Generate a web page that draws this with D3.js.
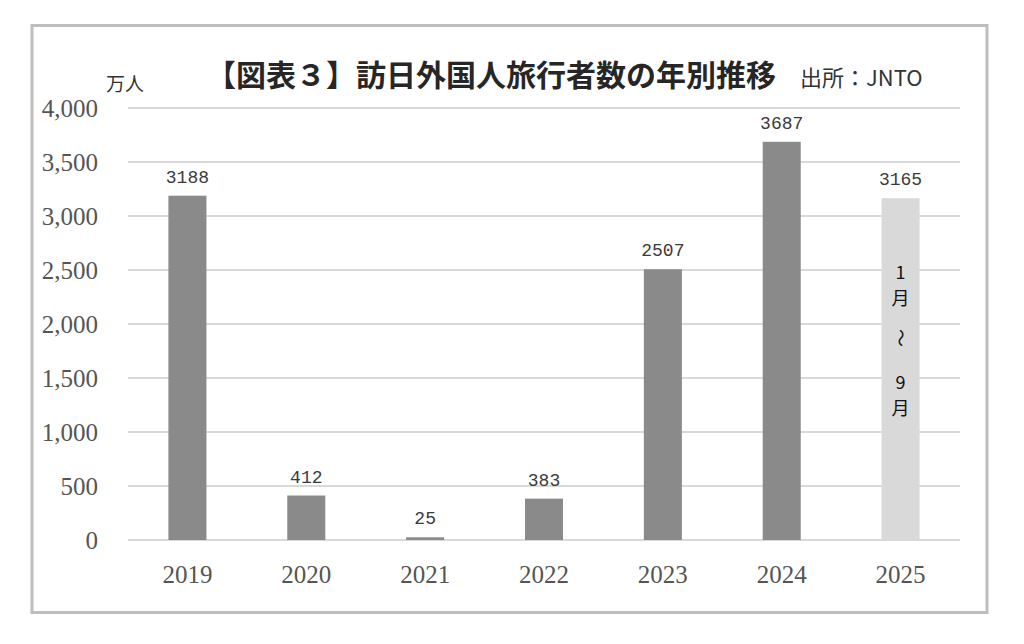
<!DOCTYPE html>
<html><head><meta charset="utf-8">
<script src="https://cdn.jsdelivr.net/npm/d3@7"></script>
<style>body{margin:0;background:#fff;} svg{display:block;}</style>
</head><body>
<svg id="c" width="1024" height="644"></svg>
<script>
const years = ["2019","2020","2021","2022","2023","2024","2025"];
const visitors = [3188, 412, 25, 383, 2507, 3687, 3165];
const barColors = ["#8a8a8a","#8a8a8a","#8a8a8a","#8a8a8a","#8a8a8a","#8a8a8a","#d9d9d9"];
const yTicks = [0, 500, 1000, 1500, 2000, 2500, 3000, 3500, 4000];
const title = "【図表３】訪日外国人旅行者数の年別推移";
const source = "出所：JNTO";
const unit = "万人";
const noteChars = ["1","月","〜","9","月"];

const svg = d3.select("#c");
svg.append("rect").attr("x",32).attr("y",25.5).attr("width",955).attr("height",587)
  .attr("fill","#fff").attr("stroke","#bdbdbd").attr("stroke-width",3);

const x = d3.scaleBand().domain(years).range([128,960]).paddingInner(0.68).paddingOuter(0.34);
const y = d3.scaleLinear().domain([0,4000]).range([540,108]);

// gridlines
svg.append("g").selectAll("line").data(yTicks).join("line")
  .attr("x1",128).attr("x2",960).attr("y1",d=>y(d)).attr("y2",d=>y(d))
  .attr("stroke","#d9d9d9").attr("stroke-width",2);

// y axis labels
const yAxis = d3.axisLeft(y).tickValues(yTicks).tickSize(0).tickPadding(0).tickFormat(d3.format(","));
const ya = svg.append("g").attr("transform","translate(98,0)").call(yAxis);
ya.select(".domain").remove();
ya.selectAll("text").attr("font-family","'Liberation Serif', serif").attr("font-size",25)
  .attr("fill","#555").attr("dy","0.35em");

// x axis labels
const xAxis = d3.axisBottom(x).tickSize(0).tickPadding(0);
const xa = svg.append("g").attr("transform","translate(0,583)").call(xAxis);
xa.select(".domain").remove();
xa.selectAll("text").attr("font-family","'Liberation Serif', serif").attr("font-size",25)
  .attr("fill","#555").attr("dy","0");

// bars
svg.append("g").selectAll("rect").data(visitors).join("rect")
  .attr("x",(d,i)=>x(years[i])).attr("width",x.bandwidth())
  .attr("y",d=>y(d)).attr("height",d=>Math.max(2, y(0)-y(d)))
  .attr("fill",(d,i)=>barColors[i]);

// value labels
svg.append("g").selectAll("text").data(visitors).join("text")
  .attr("x",(d,i)=>x(years[i])+x.bandwidth()/2).attr("y",d=>y(d)-13)
  .attr("text-anchor","middle").attr("font-family","'Liberation Mono', monospace")
  .attr("font-size",18).attr("fill","#3a3a3a").text(d=>d);

// vertical note in 2025 bar
const nx = x("2025")+x.bandwidth()/2;
const noteY = [279, 305, 338, 389, 415];
noteChars.forEach((ch,i)=>{
  const t = svg.append("text").attr("font-family","'Noto Sans CJK JP', sans-serif")
    .attr("font-size",18).attr("fill","#111").attr("text-anchor","middle").text(ch);
  if (ch==="〜") t.attr("transform",`translate(${nx},${noteY[i]}) rotate(90)`).attr("dy","0.35em");
  else t.attr("x",nx).attr("y",noteY[i]);
});

// title and labels
svg.append("text").attr("x",491).attr("y",86).attr("text-anchor","middle")
  .attr("font-family","'Noto Sans CJK JP', sans-serif").attr("font-size",30).attr("font-weight",700)
  .attr("fill","#262626").text(title);
svg.append("text").attr("x",800).attr("y",86)
  .attr("font-family","'Noto Sans CJK JP', sans-serif").attr("font-size",22)
  .attr("fill","#333").text(source);
svg.append("text").attr("x",106).attr("y",91)
  .attr("font-family","'Noto Sans CJK JP', sans-serif").attr("font-size",19)
  .attr("fill","#333").text(unit);
</script>
</body></html>
